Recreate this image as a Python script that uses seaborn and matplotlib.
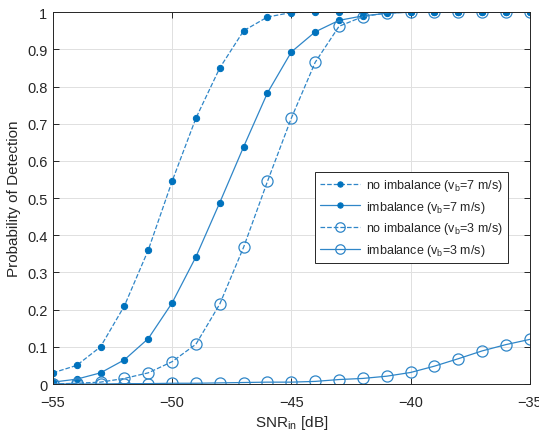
import numpy as np
import pandas as pd
import matplotlib
matplotlib.use('Agg')
import matplotlib.pyplot as plt
import seaborn as sns

# SNR values in dB
snr = list(range(-55, -34))

# probability of detection per scenario
pd_noimb_7 = [0.030, 0.050, 0.100, 0.210, 0.360, 0.545, 0.715, 0.850, 0.950, 0.987,
              0.999, 1.0, 1.0, 1.0, 1.0, 1.0, 1.0, 1.0, 1.0, 1.0, 1.0]
pd_imb_7 = [0.005, 0.013, 0.030, 0.065, 0.122, 0.218, 0.342, 0.488, 0.638, 0.783,
            0.893, 0.947, 0.978, 0.990, 0.997, 1.0, 1.0, 1.0, 1.0, 1.0, 1.0]
pd_noimb_3 = [0.000, 0.002, 0.005, 0.015, 0.030, 0.060, 0.107, 0.215, 0.368, 0.545,
              0.715, 0.865, 0.962, 0.988, 0.998, 1.0, 1.0, 1.0, 1.0, 1.0, 1.0]
pd_imb_3 = [0.000, 0.000, 0.000, 0.001, 0.001, 0.002, 0.002, 0.003, 0.004, 0.005,
            0.005, 0.007, 0.012, 0.015, 0.021, 0.031, 0.048, 0.068, 0.089, 0.106, 0.120]

labels = ['no imbalance (v$_\\mathrm{b}$=7 m/s)',
          'imbalance (v$_\\mathrm{b}$=7 m/s)',
          'no imbalance (v$_\\mathrm{b}$=3 m/s)',
          'imbalance (v$_\\mathrm{b}$=3 m/s)']

sns.set_style('whitegrid')
plt.rcParams['font.family'] = ['Liberation Sans', 'DejaVu Sans']
plt.rcParams['mathtext.fontset'] = 'custom'
plt.rcParams['mathtext.rm'] = 'Liberation Sans'
plt.rcParams['mathtext.it'] = 'Liberation Sans:italic'

color = '#0072BD'
line_col = '#2f86c8'

fig = plt.figure(figsize=(5.39, 4.39), dpi=100)
ax = fig.add_axes([0.098, 0.123, 0.885, 0.847])

series = [pd_noimb_7, pd_imb_7, pd_noimb_3, pd_imb_3]
styles = [('--', True), ('-', True), ('--', False), ('-', False)]
for vals, lab, (ls, filled) in zip(series, labels, styles):
    df = pd.DataFrame({'snr': snr, 'pd': vals})
    if filled:
        sns.lineplot(data=df, x='snr', y='pd', ax=ax, color=line_col, linestyle=ls, lw=0.9,
                     marker='o', markersize=4.5, markerfacecolor=color,
                     markeredgecolor=color, label=lab)
    else:
        sns.lineplot(data=df, x='snr', y='pd', ax=ax, color=line_col, linestyle=ls, lw=0.9,
                     marker='o', markersize=8, markerfacecolor='none',
                     markeredgecolor=line_col, markeredgewidth=0.9, label=lab)

ax.set_xlim(-55, -35)
ax.set_ylim(0, 1)
ax.set_xticks(np.arange(-55, -34, 5))
ax.set_yticks(np.arange(0, 1.01, 0.1))
ax.set_yticklabels(['0', '0.1', '0.2', '0.3', '0.4', '0.5', '0.6', '0.7', '0.8', '0.9', '1'])
ax.set_xlabel('SNR$_\\mathrm{in}$ [dB]', fontsize=11, color='#262626', labelpad=3)
ax.set_ylabel('Probability of Detection', fontsize=11, color='#262626')
ax.grid(True, color='#e0e0e0', lw=0.7)
ax.tick_params(direction='in', length=4, width=0.7, labelsize=10.5, colors='#262626',
               top=True, right=True, bottom=True, left=True, pad=4)
ax.tick_params(axis='x', pad=8)
for s in ax.spines.values():
    s.set_color('#262626')
    s.set_linewidth(0.7)

leg = ax.legend(loc='upper left', bbox_to_anchor=(0.549, 0.570), fontsize=9,
                frameon=True, fancybox=False, edgecolor='#262626', framealpha=1,
                handlelength=3.2, borderpad=0.4, labelspacing=0.45, handletextpad=0.5,
                markerscale=0.85, borderaxespad=0)
leg.get_frame().set_linewidth(0.7)

fig.savefig('out.png', dpi=100)
